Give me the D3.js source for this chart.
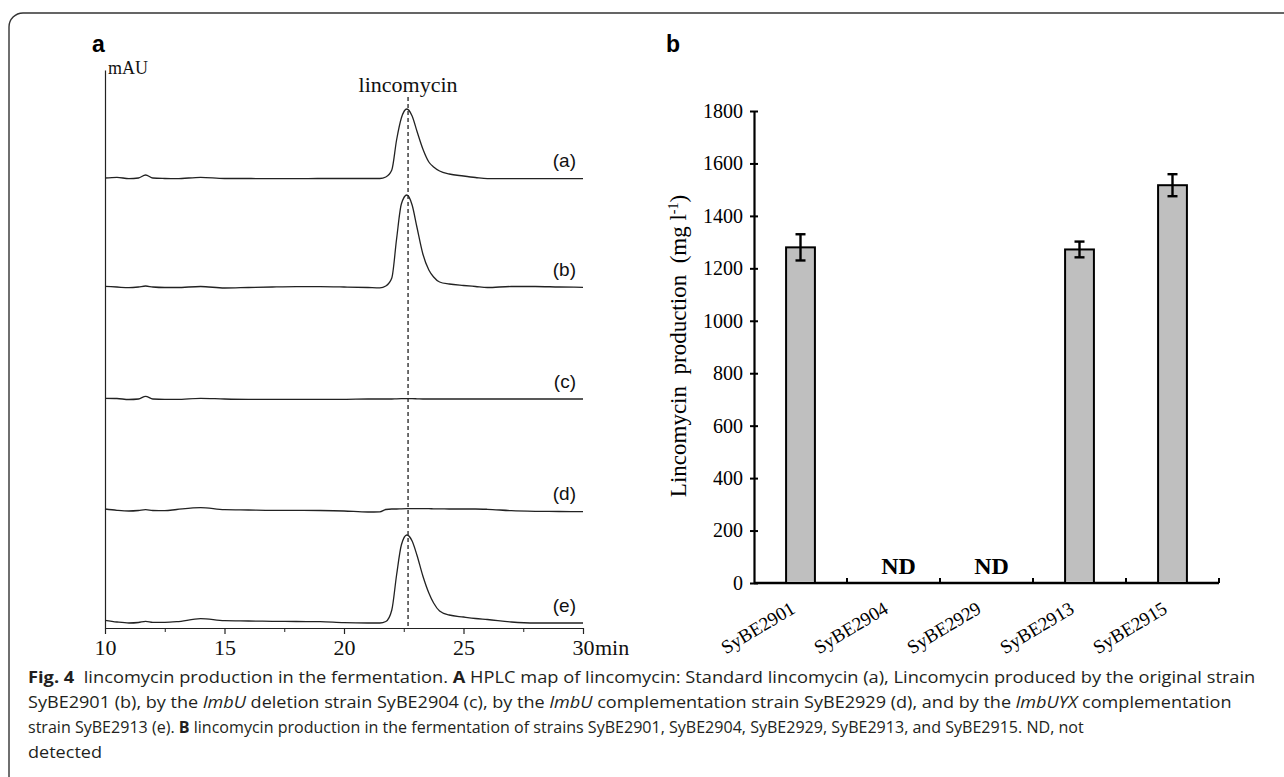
<!DOCTYPE html>
<html>
<head>
<meta charset="utf-8">
<script src="https://cdn.jsdelivr.net/npm/d3@7"></script>
<style>
  body { margin: 0; background: #fff; }
  svg { display: block; }
</style>
</head>
<body>
<div id="container"></div>
<script>
/* DATA */
// HPLC traces (panel a): retention time (min) and detector signal above each trace's baseline
const times = [10, 10.5, 11, 11.4, 11.7, 12, 12.5, 13, 14, 15, 16, 17, 18, 19, 20, 21, 21.5, 21.75,
  22.0, 22.2, 22.4, 22.63, 22.85, 23.05, 23.3, 23.55, 23.75, 24.0, 24.4, 25.0, 25.5, 26.0, 27, 28, 29, 30]
const traceA = [0, 0.7, -0.7, 0, 3, 0, -0.5, -0.7, 0.7, -0.5, -0.5, -0.7, -0.7, -0.5, -0.5, -0.5, -0.5, 1,
  8, 38, 60, 69, 62, 47, 29, 16, 11, 7, 4, 2, 0.5, -0.7, -0.7, -0.7, -0.7, -0.7]
const traceB = [0.7, 0, -0.7, 0, 1, 0, -0.5, -0.5, 0.5, -1, -0.5, 0, 0.3, 0.3, 0, -0.5, -0.8, 1,
  9, 48, 83, 92, 82, 60, 33, 17, 10, 5, 3, 1.5, 0.5, -0.5, 0.5, 0.5, 0, -0.3]
const traceC = [0.7, 0.5, -0.5, 0, 2.7, 0, -0.3, -0.3, 0.7, 0, -0.3, -0.3, -0.3, -0.3, -0.3, 0, 0, 0,
  0, 0.2, 0.3, 0.3, 0.3, 0.2, 0, 0, 0, 0, 0, 0, 0, 0, 0, 0, 0, 0]
const traceD = [2, 0.7, 0, 0.5, 1.3, 0.5, 0.3, 1.5, 3.3, 1.3, 1, 0.7, 0.7, 0.5, 0, -1, -0.8, 1.5,
  2, 2, 2.2, 2.3, 2.3, 2.3, 2.3, 2.3, 2.2, 2.2, 2, 2, 2, 1.7, 0.3, -0.3, -0.5, -0.7]
const traceE = [2.7, 1, 0, 0.5, 1.7, 0.7, 0.7, 1.3, 4.3, 2.3, 2, 1.7, 1.5, 1.3, 0.3, 0, 0, 1.5,
  13, 48, 78, 88, 82, 68, 47, 30, 20, 12, 8, 6, 4.5, 3.5, 1, 0, 0, 0]
const traceNames = ["(a)", "(b)", "(c)", "(d)", "(e)"]
const traceOffsets = [450, 341, 229, 117, 5]
const peakTime = 22.68
const timeTicks = [10, 15, 20, 25, 30]
const timeMinorTicks = [12.5, 17.5, 22.5, 27.5]

// Lincomycin production (panel b)
const strains = ["SyBE2901", "SyBE2904", "SyBE2929", "SyBE2913", "SyBE2915"]
const production = [1280, 0, 0, 1272, 1517]
const productionErr = [50, 0, 0, 30, 42]
const notDetected = [false, true, true, false, false]
const prodTicks = [0, 200, 400, 600, 800, 1000, 1200, 1400, 1600, 1800]

// caption lines: [text, style]
const captionLines = [
  [["Fig. 4", "b"], ["  lincomycin production in the fermentation. ", ""], ["A", "b"],
   [" HPLC map of lincomycin: Standard lincomycin (a), Lincomycin produced by the original strain", ""]],
  [["SyBE2901 (b), by the ", ""], ["lmbU", "i"], [" deletion strain SyBE2904 (c), by the ", ""], ["lmbU", "i"],
   [" complementation strain SyBE2929 (d), and by the ", ""], ["lmbUYX", "i"], [" complementation", ""]],
  [["strain SyBE2913 (e). ", ""], ["B", "b"],
   [" lincomycin production in the fermentation of strains SyBE2901, SyBE2904, SyBE2929, SyBE2913, and SyBE2915. ND, not", ""]],
  [["detected", ""]]
]
const captionWidths = [1228, 1204, 1057, 74]

/* CONSTANTS */
const width = 1284, height = 777
const serif = "'Liberation Serif', 'Times New Roman', serif"
const sans = "'Liberation Sans', Arial, sans-serif"

const svg = d3.select("#container")
  .append("svg")
  .attr("width", width)
  .attr("height", height)

// frame
svg.append("path")
  .attr("d", "M9,790 L9,27 A14,14 0 0 1 23,13 L1290,13")
  .attr("fill", "none")
  .attr("stroke", "#333")
  .attr("stroke-width", 1.4)

/* PANEL A */
const xA = d3.scaleLinear().domain([10, 30]).range([105, 583])
const yA = d3.scaleLinear().domain([0, 558]).range([628, 70])

svg.append("text")
  .attr("x", 92).attr("y", 52)
  .attr("font-family", sans).attr("font-weight", "bold").attr("font-size", 23)
  .text("a")

const gA = svg.append("g").attr("color", "#222")

gA.append("g")
  .attr("transform", `translate(0, ${yA(0)})`)
  .call(d3.axisBottom(xA).tickValues(timeMinorTicks).tickSize(4).tickSizeOuter(0).tickFormat(""))
  .call(g => g.select(".domain").remove())

const xAxisA = gA.append("g")
  .attr("transform", `translate(0, ${yA(0)})`)
  .call(d3.axisBottom(xA).tickValues(timeTicks).tickSize(6).tickSizeOuter(0).tickPadding(5).tickFormat(d => d))
xAxisA.selectAll("text")
  .attr("font-family", serif).attr("font-size", 22).attr("fill", "#111")
xAxisA.selectAll("path, line").attr("stroke-width", 1.2)
xAxisA.append("text")
  .attr("x", xA(30) + 12).attr("y", 27)
  .attr("text-anchor", "start")
  .attr("font-family", serif).attr("font-size", 22).attr("fill", "#111")
  .text("min")

gA.append("g")
  .attr("transform", `translate(${xA(10)}, 0)`)
  .call(d3.axisLeft(yA).tickValues([]).tickSizeOuter(0))
  .call(g => g.select(".domain").attr("stroke-width", 1.2))

svg.append("text")
  .attr("x", 108).attr("y", 74)
  .attr("font-family", serif).attr("font-size", 18).attr("fill", "#111")
  .text("mAU")

// dashed marker for lincomycin retention time
svg.append("line")
  .attr("x1", xA(peakTime)).attr("x2", xA(peakTime))
  .attr("y1", 97).attr("y2", yA(0))
  .attr("stroke", "#222").attr("stroke-width", 1.3)
  .attr("stroke-dasharray", "4,3")

svg.append("text")
  .attr("x", xA(peakTime)).attr("y", 92)
  .attr("text-anchor", "middle")
  .attr("font-family", serif).attr("font-size", 22).attr("fill", "#111")
  .text("lincomycin")

const traces = [traceA, traceB, traceC, traceD, traceE]

const lineGen = d3.line()
  .x((d, i) => xA(times[i]))
  .y(d => d)
  .curve(d3.curveMonotoneX)

svg.selectAll("path.trace")
  .data(traces)
  .join("path")
  .attr("class", "trace")
  .attr("fill", "none")
  .attr("stroke", "#222")
  .attr("stroke-width", 1.3)
  .attr("d", (tr, k) => lineGen(tr.map(v => yA(traceOffsets[k] + v))))

svg.selectAll("text.trace-label")
  .data(traceNames)
  .join("text")
  .attr("class", "trace-label")
  .attr("x", 576)
  .attr("y", (d, k) => yA(traceOffsets[k]) - 11)
  .attr("text-anchor", "end")
  .attr("font-family", sans).attr("font-size", 19).attr("fill", "#111")
  .text(d => d)

/* PANEL B */
const xB = d3.scaleBand().domain(strains).range([754, 1219]).paddingInner(0.69).paddingOuter(0.345)
const yB = d3.scaleLinear().domain([0, 1800]).range([583, 111])

svg.append("text")
  .attr("x", 666).attr("y", 52)
  .attr("font-family", sans).attr("font-weight", "bold").attr("font-size", 23)
  .text("b")

const yAxisB = svg.append("g")
  .attr("transform", `translate(754, 0)`)
  .call(d3.axisLeft(yB).tickValues(prodTicks).tickSize(4).tickSizeOuter(0).tickPadding(7).tickFormat(d3.format("d")))
yAxisB.selectAll(".tick line").attr("x1", 4).attr("stroke-width", 2)
yAxisB.select(".domain").attr("stroke-width", 2.2)
yAxisB.selectAll("text")
  .attr("font-family", serif).attr("font-size", 20).attr("fill", "#000")

// category axis with ticks between bars
const step = xB.step()
const bounds = strains.map(s => xB(s) + xB.bandwidth() / 2 - step / 2)
bounds.push(bounds[bounds.length - 1] + step)

svg.append("line")
  .attr("x1", 754).attr("x2", 1219)
  .attr("y1", yB(0)).attr("y2", yB(0))
  .attr("stroke", "#000").attr("stroke-width", 2.4)

svg.selectAll("line.bound")
  .data(bounds.slice(1))
  .join("line")
  .attr("class", "bound")
  .attr("x1", d => d).attr("x2", d => d)
  .attr("y1", yB(0)).attr("y2", yB(0) - 5)
  .attr("stroke", "#000").attr("stroke-width", 2)

const cats = strains.map((s, i) => ({ s, v: production[i], e: productionErr[i], nd: notDetected[i] }))

svg.selectAll("rect.bar")
  .data(cats.filter(d => !d.nd))
  .join("rect")
  .attr("class", "bar")
  .attr("x", d => xB(d.s))
  .attr("y", d => yB(d.v))
  .attr("width", xB.bandwidth())
  .attr("height", d => yB(0) - yB(d.v))
  .attr("fill", "#bfbfbf")
  .attr("stroke", "#000")
  .attr("stroke-width", 2)

const errG = svg.selectAll("g.err")
  .data(cats.filter(d => !d.nd))
  .join("g")
  .attr("class", "err")
  .attr("transform", d => `translate(${xB(d.s) + xB.bandwidth() / 2}, 0)`)
errG.append("line")
  .attr("y1", d => yB(d.v + d.e)).attr("y2", d => yB(d.v - d.e))
  .attr("stroke", "#000").attr("stroke-width", 2.4)
errG.selectAll("line.cap")
  .data(d => [d.v + d.e, d.v - d.e])
  .join("line")
  .attr("class", "cap")
  .attr("x1", -5).attr("x2", 5)
  .attr("y1", d => yB(d)).attr("y2", d => yB(d))
  .attr("stroke", "#000").attr("stroke-width", 2.4)

svg.selectAll("text.nd")
  .data(cats.filter(d => d.nd))
  .join("text")
  .attr("class", "nd")
  .attr("x", d => xB(d.s) + xB.bandwidth() / 2 + 5)
  .attr("y", yB(0) - 9)
  .attr("text-anchor", "middle")
  .attr("font-family", serif).attr("font-weight", "bold").attr("font-size", 24)
  .text("ND")

svg.selectAll("text.cat")
  .data(strains)
  .join("text")
  .attr("class", "cat")
  .attr("transform", d => `translate(${xB(d) + xB.bandwidth() / 2 - 4}, ${yB(0) + 29}) rotate(-31)`)
  .attr("text-anchor", "end")
  .attr("font-family", serif).attr("font-size", 19)
  .text(d => d)

const yLab = svg.append("text")
  .attr("transform", `translate(686, 346) rotate(-90)`)
  .attr("text-anchor", "middle")
  .attr("font-family", serif).attr("font-size", 23)
  .attr("xml:space", "preserve")
yLab.append("tspan").text("Lincomycin  production  (mg l")
yLab.append("tspan").attr("font-size", 14).attr("dy", -8).text("-1")
yLab.append("tspan").attr("dy", 8).text(")")

/* CAPTION */
// condensed look: measure each line, then squeeze it horizontally to the reference width
const cap = svg.append("g").attr("font-family", "'Open Sans', 'Noto Sans', sans-serif").attr("fill", "#231f20")
captionLines.forEach((segs, i) => {
  const t = cap.append("text")
    .attr("x", 0).attr("y", 0)
    .attr("font-size", 16.5)
    .attr("xml:space", "preserve")
  segs.forEach(([txt, st]) => {
    const sp = t.append("tspan").text(txt)
    if (st === "b") sp.attr("font-weight", "bold")
    if (st === "i") sp.attr("font-style", "italic")
  })
  const w = t.node().getComputedTextLength()
  t.attr("transform", `translate(28, ${683 + i * 25}) scale(${captionWidths[i] / w}, 1)`)
})
</script>
</body>
</html>
